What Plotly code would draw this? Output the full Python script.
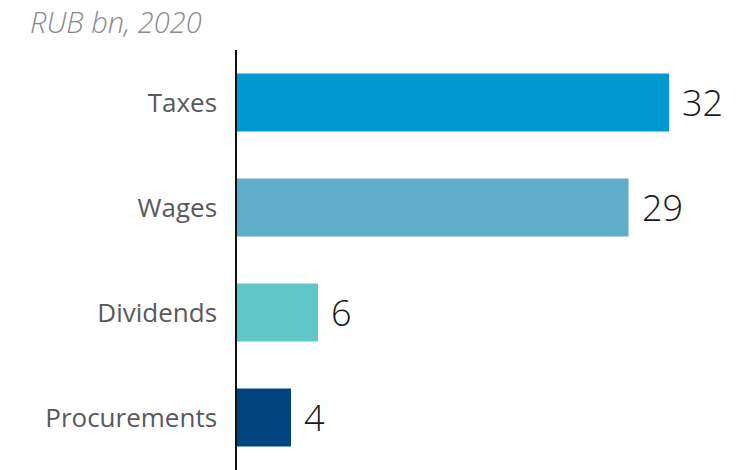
import plotly.graph_objects as go

# Payments, RUB bn, 2020
categories = ["Taxes", "Wages", "Dividends", "Procurements"]
values = [32, 29, 6, 4]
colors = ["#0099CF", "#60ADC9", "#60C6C8", "#00447F"]

fig = go.Figure(
    go.Bar(
        x=values,
        y=categories,
        orientation="h",
        marker=dict(color=colors, line=dict(width=0)),
        width=0.552,
        hoverinfo="skip",
    )
)

# value labels to the right of each bar
for cat, val in zip(categories, values):
    fig.add_annotation(
        x=val, y=cat, xref="x", yref="y",
        text=str(val), showarrow=False,
        xanchor="left", yanchor="middle", xshift=11,
        font=dict(family="Open Sans", size=36, color="#1a1a1a", weight=300),
    )

fig.update_layout(
    width=744, height=470,
    margin=dict(l=237, r=0, t=50, b=0),
    paper_bgcolor="white", plot_bgcolor="white",
    showlegend=False,
    title=dict(
        text="RUB bn, 2020",
        x=30 / 744, xref="container", xanchor="left",
        y=1 - 13 / 470, yref="container", yanchor="top",
        font=dict(family="Open Sans", size=29, color="#8a8a8a", style="italic", weight=300),
    ),
    xaxis=dict(range=[0, 37.55], visible=False, fixedrange=True),
    yaxis=dict(
        categoryorder="array", categoryarray=categories, autorange="reversed",
        showline=True, linecolor="#111111", linewidth=1.5,
        showgrid=False, zeroline=False, ticks="",
        ticklabelstandoff=13,
        tickfont=dict(family="Open Sans", size=26, color="#595959"),
        fixedrange=True,
    ),
)

fig.write_html("out.html")
